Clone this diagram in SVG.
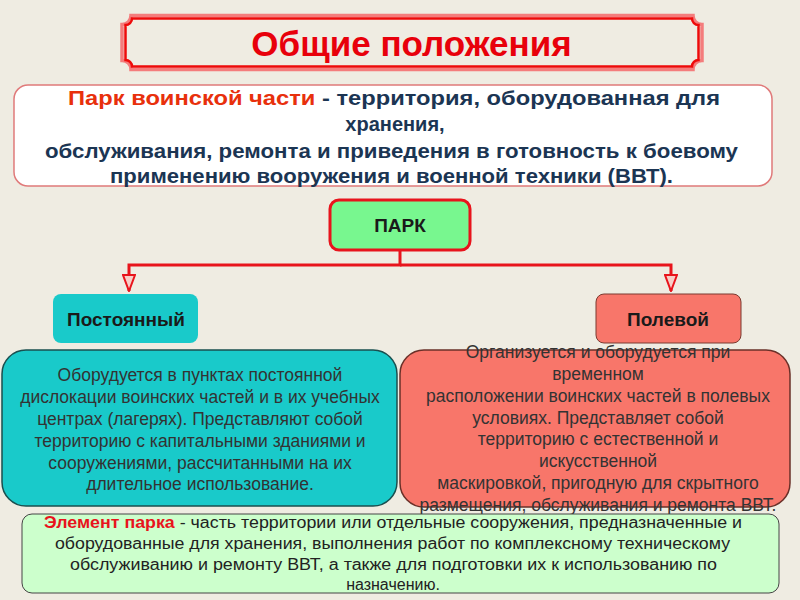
<svg xmlns="http://www.w3.org/2000/svg" width="800" height="600" viewBox="0 0 800 600">
<defs>
<style>
text{font-family:"Liberation Sans",Arial,sans-serif}
.def{font-size:20px;font-weight:bold;fill:#1b3553;text-anchor:middle}
.box{font-size:17.5px;fill:#333;text-anchor:middle}
.lbl{font-size:19px;font-weight:bold;fill:#1a1a1a;text-anchor:middle}
.bot{font-size:16px;fill:#222;text-anchor:middle}
.red{fill:#e8300c}
.conn{fill:none;stroke:#e8141c;stroke-width:3}
.frameA{fill:none;stroke:#f47c7c;stroke-width:3.5}
.frameB{fill:none;stroke:#ee0a0a;stroke-width:2.5}
</style>
<marker id="arr" viewBox="0 0 18 14" refX="17" refY="7" markerWidth="18" markerHeight="14" markerUnits="userSpaceOnUse" orient="auto">
<path d="M1,1 L17,7 L1,13 Z" fill="#f7cfc8" stroke="#e8141c" stroke-width="2"/>
</marker>
</defs>
<rect width="800" height="600" fill="#efece2"/>

<g id="title">
<path class="frameA" d="M131,15.5 H693 A9 9 0 0 0 702,24.5 V60.5 A9 9 0 0 0 693,69.5 H131 A9 9 0 0 0 122,60.5 V24.5 A9 9 0 0 0 131,15.5 Z"/>
<path class="frameB" d="M132,18.5 H692 A6.5 6.5 0 0 0 698.5,25 V60 A6.5 6.5 0 0 0 692,66.5 H132 A6.5 6.5 0 0 0 125.5,60 V25 A6.5 6.5 0 0 0 132,18.5 Z"/>
<text x="411.5" y="56" font-size="35" font-weight="bold" fill="#e8000b" text-anchor="middle">Общие положения</text>
</g>

<g id="definition">
<rect x="14" y="85" width="758" height="101" rx="14" fill="#ffffff" stroke="#e07a7a" stroke-width="1.5"/>
<text class="def" x="394" y="105" textLength="652" lengthAdjust="spacingAndGlyphs"><tspan class="red">Парк воинской части</tspan> - территория, оборудованная для</text>
<text class="def" x="395" y="131">хранения,</text>
<text class="def" x="391.5" y="158" textLength="693" lengthAdjust="spacingAndGlyphs">обслуживания, ремонта и приведения в готовность к боевому</text>
<text class="def" x="391.5" y="183" textLength="563" lengthAdjust="spacingAndGlyphs">применению вооружения и военной техники (ВВТ).</text>
</g>

<g id="connectors">
<path class="conn" d="M400,250 V265 H129 V291" marker-end="url(#arr)"/>
<path class="conn" d="M400,265 H671 V291" marker-end="url(#arr)"/>
</g>

<g id="park">
<rect x="330" y="200" width="140" height="50" rx="9" fill="#78f78f" stroke="#e8141c" stroke-width="3"/>
<text class="lbl" x="400" y="232">ПАРК</text>
</g>

<g id="permanent">
<rect x="53" y="294" width="145" height="49" rx="8" fill="#19caca"/>
<text class="lbl" x="126" y="326">Постоянный</text>
</g>

<g id="field">
<rect x="596" y="294" width="145" height="49" rx="8" fill="#f8766a" stroke="#7a3a30" stroke-width="1"/>
<text class="lbl" x="668" y="326">Полевой</text>
</g>

<g id="permanent-desc">
<rect x="2" y="350" width="395" height="156" rx="24" fill="#19caca" stroke="#1a4f4f" stroke-width="1.5"/>
<text class="box" x="200" y="381">Оборудуется в пунктах постоянной</text>
<text class="box" x="200" y="403">дислокации воинских частей и в их учебных</text>
<text class="box" x="200" y="425">центрах (лагерях). Представляют собой</text>
<text class="box" x="200" y="447">территорию с капитальными зданиями и</text>
<text class="box" x="200" y="469">сооружениями, рассчитанными на их</text>
<text class="box" x="200" y="490">длительное использование.</text>
</g>

<g id="field-desc">
<rect x="400" y="350" width="390" height="157" rx="24" fill="#f8766a" stroke="#6a3028" stroke-width="1.5"/>
<text class="box" x="598" y="358">Организуется и оборудуется при</text>
<text class="box" x="598" y="380">временном</text>
<text class="box" x="598" y="402">расположении воинских частей в полевых</text>
<text class="box" x="598" y="424">условиях.  Представляет собой</text>
<text class="box" x="598" y="445">территорию с естественной и</text>
<text class="box" x="598" y="467">искусственной</text>
<text class="box" x="598" y="489">маскировкой, пригодную для скрытного</text>
<text class="box" x="598" y="511">размещения, обслуживания и ремонта ВВТ.</text>
</g>

<g id="element">
<rect x="22" y="514" width="757" height="79" rx="10" fill="#ccffcc" stroke="#444" stroke-width="1"/>
<text class="bot" x="393" y="528" textLength="698" lengthAdjust="spacingAndGlyphs"><tspan fill="#e8141c" font-weight="bold">Элемент парка</tspan> - часть территории или отдельные сооружения, предназначенные и</text>
<text class="bot" x="392.5" y="549" textLength="675" lengthAdjust="spacingAndGlyphs">оборудованные для хранения, выполнения работ по комплексному техническому</text>
<text class="bot" x="393.5" y="570" textLength="647" lengthAdjust="spacingAndGlyphs">обслуживанию и ремонту ВВТ, а также для подготовки их к использованию по</text>
<text class="bot" x="393" y="590">назначению.</text>
</g>
</svg>
